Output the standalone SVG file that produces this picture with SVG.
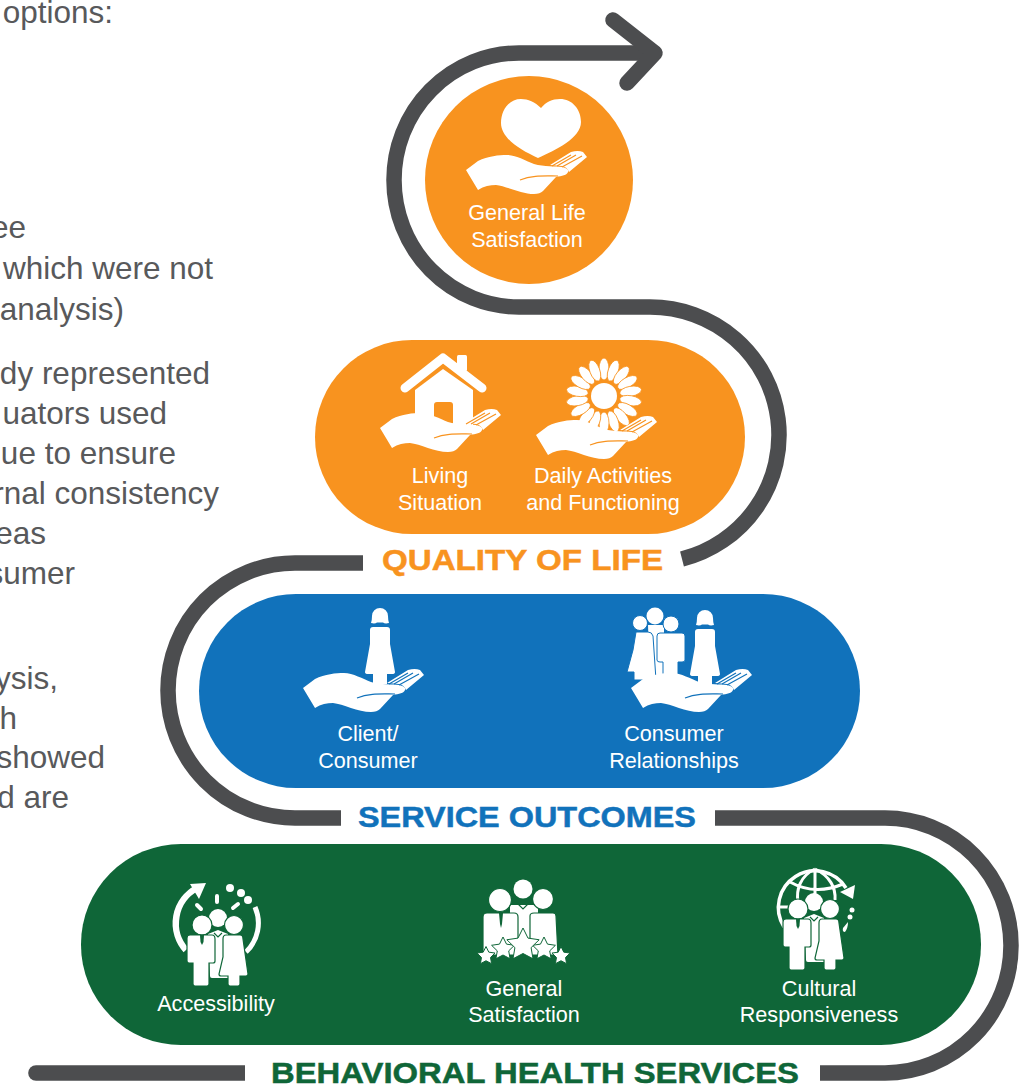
<svg xmlns="http://www.w3.org/2000/svg" width="1033" height="1084" viewBox="0 0 1033 1084">
<style>
text{font-family:"Liberation Sans",Arial,sans-serif}
.body{font-size:31.5px;fill:#58595b;text-anchor:end}
.lbl{font-size:21.6px;fill:#fff;text-anchor:middle}
.ttl{font-size:30px;font-weight:700;text-anchor:middle;stroke-width:.5px}
.rib{fill:none;stroke:#4c4d4f;stroke-width:15.5}
.w{fill:#fff}
.g{stroke:#0f6638;stroke-width:1.2}
.b{stroke:#1172bb;stroke-width:1}
.arc{fill:none;stroke:#fff}
.pt{stroke:#f8931f;stroke-width:.8}
</style>
<defs>
<g id="hand">
<path class="w" d="M84-5L105-18Q112-20 117-18L121-13L103 2Q101-3 96-4Z"/>
<path class="w" d="M0 0L12-9C22-14 33-15 41-15C50-15 60-9 68-6C78-3 90-4 96-3C101-2 103 0 102 2C101 5 96 6 90 7L77 21Q74 24 68 24C55 24 40 16 30 15C24 15 18 16 12 20Z"/>
<path d="M54 10C66 5 78 6 92 6M86-4L105-15M91-4L110-15M96-3L116-14" fill="none" stroke="currentColor" stroke-width="1.2"/>
</g>
<g id="woman">
<path class="w" d="M-8 0A8 8 0 0 1 8 0Q8 4 9 7Q5 8 3 6.500H-3Q-5 8-9 7Q-8 4-8 0Z"/>
<path class="w" d="M-10 14Q-10 11-7 11H7Q10 11 10 14L10 28L15 56Q15 58 12 58H7V68H-7V58H-12Q-15 58-15 56L-10 28Z"/>
</g>
<path id="star" d="M0-10L2.94-4.05L9.51-3.09L4.76 1.55L5.88 8.09L0 5L-5.88 8.09L-4.76 1.55L-9.51-3.09L-2.94-4.05Z" fill="#fff" stroke="#0f6638" stroke-width="1" vector-effect="non-scaling-stroke"/>
<g id="trio">
<circle class="w" cx="16" cy="-7" r="9"/>
<path class="w" d="M6 9L16 5L26 9V53H10Q8 53 8 51Z"/>
<path d="M12 8L16 12L20 8" fill="none" stroke="#0f6638" stroke-width="1.2"/>
<circle class="w g" cx="0" cy="0" r="10"/>
<path class="w g" d="M-12 10H10Q13 10 13 14V36Q13 38 11 38H7V59Q7 61 5 61H-7Q-9 61-9 59V38H-13Q-15 38-15 36V13Q-15 10-12 10Z"/>
<path d="M-2 10H2L1.500 17L0 20L-1.500 17Z" fill="#0f6638"/>
<circle class="w g" cx="32" cy="0" r="9.500"/>
<path class="w g" d="M24 10H38Q41 10 41 14L46 49Q46 51 44 51H38V59Q38 61 36 61H28Q26 61 26 59V51H19Q17 51 17 49L21 32V14Q21 10 24 10Z"/>
</g>
</defs>

<g id="intro-text">
<text class="body" x="113" y="23">options:</text>
<text class="body" x="26" y="238">ee</text>
<text class="body" x="213" y="279">which were not</text>
<text class="body" x="124" y="320">analysis)</text>
<text class="body" x="210" y="384">dy represented</text>
<text class="body" x="167" y="424">uators used</text>
<text class="body" x="176" y="464">ue to ensure</text>
<text class="body" x="219" y="504">rnal consistency</text>
<text class="body" x="46" y="544">eas</text>
<text class="body" x="75" y="584">sumer</text>
<text class="body" x="58" y="689">ysis,</text>
<text class="body" x="17" y="729">th</text>
<text class="body" x="105" y="768">showed</text>
<text class="body" x="69" y="808">d are</text>
</g>

<g id="connectors">
<path class="rib" d="M652 53H519A125 127 0 0 0 519 307H650A129 128 0 0 1 682 559"/>
<path d="M613 20L655 53L627 83" fill="none" stroke="#4c4d4f" stroke-width="15.500" stroke-linecap="round" stroke-linejoin="round"/>
<path class="rib" d="M363 563H295A127 127.500 0 0 0 295 818H341"/>
<path class="rib" d="M715 818H885A126 127.500 0 0 1 885 1073H820"/>
<path d="M245 1065.200H36A7.800 7.800 0 0 0 36 1080.800H245Z" fill="#4c4d4f"/>
</g>

<g id="general-life-satisfaction">
<circle cx="529" cy="180" r="104" fill="#f8931f"/>
<path class="w" d="M541 108C535 102 528 99 521 99C509 99 501 110 501 123C501 138 520 150 538 158C556 150 581 138 581 122C581 109 572 99 560 99C552 99 546 102 541 108Z"/>
<use href="#hand" x="466" y="170" color="#f8931f"/>
<text class="lbl" x="527" y="220">General Life</text>
<text class="lbl" x="527" y="247">Satisfaction</text>
</g>

<g id="quality-of-life">
<rect x="315" y="340" width="430" height="194" rx="97" fill="#f8931f"/>
<text class="ttl" x="522.500" y="570" fill="#f8931f" stroke="#f8931f" textLength="281" lengthAdjust="spacingAndGlyphs">QUALITY OF LIFE</text>
</g>
<g id="living-situation">
<path class="w" d="M415 390L443 369L473 390V425H415Z"/>
<rect x="434" y="402" width="19" height="26" rx="3" fill="#f8931f"/>
<path d="M405 388L443 358L482 388" fill="none" stroke="#fff" stroke-width="9" stroke-linecap="round" stroke-linejoin="round"/>
<rect class="w" x="457" y="355" width="10" height="16" rx="1.500"/>
<use href="#hand" x="380" y="428" color="#f8931f"/>
<text class="lbl" x="440" y="483">Living</text>
<text class="lbl" x="440" y="510">Situation</text>
</g>
<g id="daily-activities">
<g class="w" transform="translate(604 396)">
<circle r="13"/>
<g class="pt">
<ellipse cy="-27" rx="5" ry="11"/>
<ellipse cy="-27" rx="5" ry="11" transform="rotate(20)"/>
<ellipse cy="-27" rx="5" ry="11" transform="rotate(40)"/>
<ellipse cy="-27" rx="5" ry="11" transform="rotate(60)"/>
<ellipse cy="-27" rx="5" ry="11" transform="rotate(80)"/>
<ellipse cy="-27" rx="5" ry="11" transform="rotate(100)"/>
<ellipse cy="-27" rx="5" ry="11" transform="rotate(120)"/>
<ellipse cy="-27" rx="5" ry="11" transform="rotate(140)"/>
<ellipse cy="-27" rx="5" ry="11" transform="rotate(160)"/>
<ellipse cy="-27" rx="5" ry="11" transform="rotate(180)"/>
<ellipse cy="-27" rx="5" ry="11" transform="rotate(200)"/>
<ellipse cy="-27" rx="5" ry="11" transform="rotate(220)"/>
<ellipse cy="-27" rx="5" ry="11" transform="rotate(240)"/>
<ellipse cy="-27" rx="5" ry="11" transform="rotate(260)"/>
<ellipse cy="-27" rx="5" ry="11" transform="rotate(280)"/>
<ellipse cy="-27" rx="5" ry="11" transform="rotate(300)"/>
<ellipse cy="-27" rx="5" ry="11" transform="rotate(320)"/>
<ellipse cy="-27" rx="5" ry="11" transform="rotate(340)"/>
</g>
</g>
<use href="#hand" x="536" y="435" color="#f8931f"/>
<text class="lbl" x="603" y="483">Daily Activities</text>
<text class="lbl" x="603" y="510">and Functioning</text>
</g>

<g id="service-outcomes">
<rect x="199" y="594" width="661" height="194" rx="97" fill="#1172bb"/>
<text class="ttl" x="527" y="827" fill="#1172bb" stroke="#1172bb" textLength="338" lengthAdjust="spacingAndGlyphs">SERVICE OUTCOMES</text>
</g>
<g id="client-consumer">
<use href="#woman" x="380" y="616"/>
<use href="#hand" x="303" y="688" color="#1172bb"/>
<text class="lbl" x="368" y="741">Client/</text>
<text class="lbl" x="368" y="768">Consumer</text>
</g>
<g id="consumer-relationships">
<circle class="w" cx="655" cy="616" r="8.500"/>
<path class="w" d="M648 625H664V680H650Z"/>
<circle class="w b" cx="640" cy="623" r="7.500"/>
<path class="w b" d="M636 632H648Q652 632 653 636L656 680H634V672H627L633 650Z"/>
<circle class="w b" cx="671" cy="624" r="8"/>
<path class="w b" d="M660 633H682Q685 633 685 636V660Q685 662 682 662H678V680H663V662H660Q657 662 657 660V636Q657 633 660 633Z"/>
<use href="#woman" x="705" y="618"/>
<use href="#hand" x="631" y="688" color="#1172bb"/>
<text class="lbl" x="674" y="741">Consumer</text>
<text class="lbl" x="674" y="768">Relationships</text>
</g>

<g id="behavioral-health-services">
<rect x="81" y="844" width="900" height="201" rx="100" fill="#0f6638"/>
<text class="ttl" x="535" y="1083" fill="#0f6638" stroke="#0f6638" textLength="528" lengthAdjust="spacingAndGlyphs">BEHAVIORAL HEALTH SERVICES</text>
</g>
<g id="accessibility">
<path class="arc" stroke-width="6.500" d="M186 950A40 40 0 0 1 197 888"/>
<path class="w" d="M190 884L206 883L199 899Z"/>
<path class="arc" stroke-width="5" d="M255 907A40 40 0 0 1 246 952"/>
<circle class="w" cx="230" cy="888" r="4"/><circle class="w" cx="241" cy="893" r="4"/><circle class="w" cx="248" cy="900" r="4"/>
<path d="M217 896V902M197 905L201 909M233 908L238 904" stroke="#fff" stroke-width="4" stroke-linecap="round" fill="none"/>
<use href="#trio" x="202" y="925"/>
<text class="lbl" x="216" y="1011">Accessibility</text>
</g>
<g id="general-satisfaction">
<circle class="w" cx="523" cy="889" r="9.500"/>
<path class="w" d="M510 905H538V950H510Z"/>
<path d="M516 902L523 909L530 902" fill="none" stroke="#0f6638" stroke-width="1.200"/>
<circle class="w g" cx="543" cy="899" r="10.500"/>
<path class="w g" d="M534 913H553Q556 913 556 916L558 955H530V916Q530 913 534 913Z"/>
<circle class="w g" cx="500" cy="900" r="11.500"/>
<path class="w g" d="M487 913H514Q518 913 518 917V955H483V917Q483 913 487 913Z"/>
<path d="M499 913H503L502 924L501 928L500 924Z" fill="#0f6638"/>
<use href="#star" transform="translate(486 956) scale(.95)"/>
<use href="#star" transform="translate(561 956) scale(.95)"/>
<use href="#star" transform="translate(503 949) scale(1.200)"/>
<use href="#star" transform="translate(544 949) scale(1.200)"/>
<use href="#star" transform="translate(523 945) scale(1.700)"/>
<text class="lbl" x="524" y="996">General</text>
<text class="lbl" x="524" y="1022">Satisfaction</text>
</g>
<g id="cultural-responsiveness">
<path class="arc" stroke-width="3.500" d="M784 927A35 35 0 0 1 846 888"/>
<path class="w" d="M840 892L855 885L853 899Z"/>
<path class="arc" stroke-width="3" d="M790 882Q815 896 843 884M815 869V900M815 869C800 876 796 890 798 902M815 869C830 876 836 888 835 900M780 907H792"/>
<circle class="w" cx="852" cy="910" r="2.500"/><circle class="w" cx="850" cy="917" r="2.500"/>
<path class="w" d="M848 922Q848 928 845 932Q842 932 843 928Z"/>
<use href="#trio" x="798" y="909"/>
<text class="lbl" x="819" y="996">Cultural</text>
<text class="lbl" x="819" y="1022">Responsiveness</text>
</g>
</svg>
